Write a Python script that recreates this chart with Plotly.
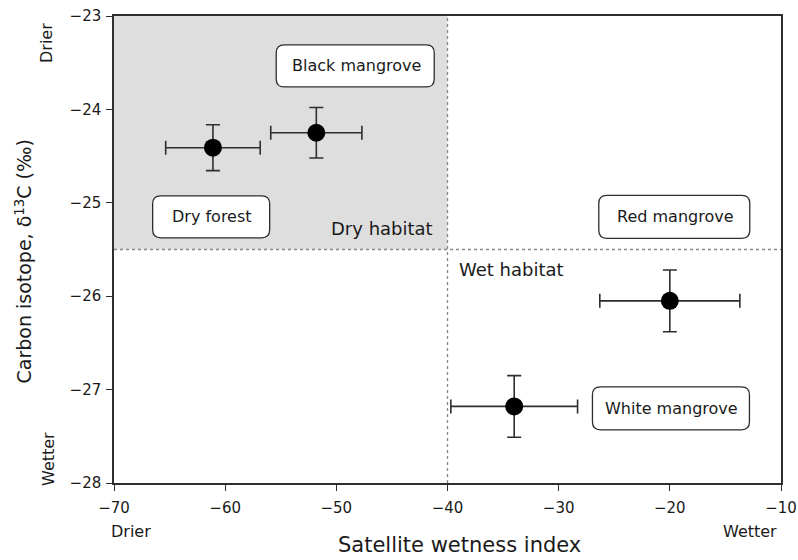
import plotly.graph_objects as go

# ---- data ----
wetness = [-61.1, -51.8, -20.0, -34.0]
wetness_err = [4.25, 4.1, 6.3, 5.7]
isotope = [-24.41, -24.25, -26.05, -27.18]
isotope_err = [0.245, 0.27, 0.33, 0.33]

box_labels = ["Black mangrove", "Dry forest", "Red mangrove", "White mangrove"]
x_ticks = [-70, -60, -50, -40, -30, -20, -10]
y_ticks = [-28, -27, -26, -25, -24, -23]
x_threshold = -40
y_threshold = -25.5

# ---- label placement (layout only) ----
box_x = [-48.3, -61.26, -19.6, -19.9]
box_y = [-23.535, -25.15, -25.15, -27.2]
box_w = [158, 117, 151, 157]
box_h = [42, 42, 43, 43]

FONT = "DejaVu Sans"
INK = "#1a1a1a"
LINE = "#2e2e2e"

fig = go.Figure()

fig.add_trace(go.Scatter(
    x=wetness, y=isotope, mode="markers",
    marker=dict(size=18, color="black"),
    error_x=dict(type="data", array=wetness_err, color=LINE, thickness=1.6, width=7),
    error_y=dict(type="data", array=isotope_err, color=LINE, thickness=1.6, width=7),
    showlegend=False, hoverinfo="skip",
))

shapes = []
# dry habitat shading
shapes.append(dict(type="rect", xref="x", yref="y", x0=x_ticks[0], x1=x_threshold,
                   y0=y_threshold, y1=y_ticks[-1], fillcolor="#dedede",
                   line=dict(width=0), layer="below"))
# dotted dividers
shapes.append(dict(type="line", xref="x", yref="y", x0=x_threshold, x1=x_threshold,
                   y0=y_ticks[0], y1=y_ticks[-1], line=dict(color="#888888", width=1.3, dash="dot"),
                   layer="below"))
shapes.append(dict(type="line", xref="x", yref="y", x0=x_ticks[0], x1=x_ticks[-1],
                   y0=y_threshold, y1=y_threshold, line=dict(color="#888888", width=1.3, dash="dot"),
                   layer="below"))


def rounded_path(w, h, r):
    a, b = w / 2, h / 2
    return (f"M {-a+r},{-b} L {a-r},{-b} Q {a},{-b} {a},{-b+r} "
            f"L {a},{b-r} Q {a},{b} {a-r},{b} L {-a+r},{b} Q {-a},{b} {-a},{b-r} "
            f"L {-a},{-b+r} Q {-a},{-b} {-a+r},{-b} Z")


annotations = []
for lab, bx, by, w, h in zip(box_labels, box_x, box_y, box_w, box_h):
    shapes.append(dict(type="path", xref="x", yref="y", xsizemode="pixel", ysizemode="pixel",
                       xanchor=bx, yanchor=by, path=rounded_path(w, h, 8),
                       fillcolor="white", line=dict(color=LINE, width=1.3), layer="above"))
    annotations.append(dict(x=bx, y=by, xref="x", yref="y", text=lab, showarrow=False,
                            font=dict(family=FONT, size=16, color=INK),
                            xanchor="center", yanchor="middle", xshift=1))

annotations += [
    dict(x=x_threshold, y=-25.27, xref="x", yref="y", text="Dry habitat", showarrow=False,
         xanchor="right", yanchor="middle", xshift=-13, font=dict(family=FONT, size=18, color=INK)),
    dict(x=x_threshold, y=-25.71, xref="x", yref="y", text="Wet habitat", showarrow=False,
         xanchor="left", yanchor="middle", xshift=9, font=dict(family=FONT, size=18, color=INK)),
    # axis titles
    dict(x=0.5, y=0, xref="paper", yref="paper", text="Satellite wetness index", showarrow=False,
         xanchor="center", yanchor="middle", yshift=-62, xshift=12, font=dict(family=FONT, size=21, color=INK)),
    dict(x=0, y=0.5, xref="paper", yref="paper", text="Carbon isotope, δ<sup>13</sup>C (‰)",
         showarrow=False, textangle=-90, xanchor="center", yanchor="middle",
         xshift=-91, yshift=-12, font=dict(family=FONT, size=19, color=INK)),
    # direction labels
    dict(x=x_ticks[0], y=0, xref="x", yref="paper", text="Drier", showarrow=False,
         xanchor="left", yanchor="middle", xshift=-5, yshift=-48, font=dict(family=FONT, size=16, color=INK)),
    dict(x=x_ticks[-1], y=0, xref="x", yref="paper", text="Wetter", showarrow=False,
         xanchor="right", yanchor="middle", xshift=-2, yshift=-48, font=dict(family=FONT, size=16, color=INK)),
    dict(x=0, y=y_ticks[-1], xref="paper", yref="y", text="Drier", showarrow=False, textangle=-90,
         xanchor="center", yanchor="top", xshift=-68, yshift=-5, font=dict(family=FONT, size=16, color=INK)),
    dict(x=0, y=y_ticks[0], xref="paper", yref="y", text="Wetter", showarrow=False, textangle=-90,
         xanchor="center", yanchor="bottom", xshift=-66, yshift=-5, font=dict(family=FONT, size=16, color=INK)),
]

axis_common = dict(showgrid=False, zeroline=False, showline=True, mirror=True,
                   linecolor=LINE, linewidth=1.5, ticks="outside", ticklen=6,
                   tickwidth=1.3, tickcolor=LINE, automargin=False,
                   tickfont=dict(family=FONT, size=15, color=INK))

fig.update_layout(
    width=798, height=560,
    margin=dict(l=114, r=17, t=16, b=77, autoexpand=False),
    paper_bgcolor="white", plot_bgcolor="white",
    xaxis=dict(range=[x_ticks[0], x_ticks[-1]], tickvals=x_ticks, ticklabelstandoff=4, **axis_common),
    yaxis=dict(range=[y_ticks[0], y_ticks[-1]], tickvals=y_ticks, ticklabelstandoff=2, **axis_common),
    shapes=shapes, annotations=annotations,
    font=dict(family=FONT, color=INK),
)

fig.write_html("out.html")
